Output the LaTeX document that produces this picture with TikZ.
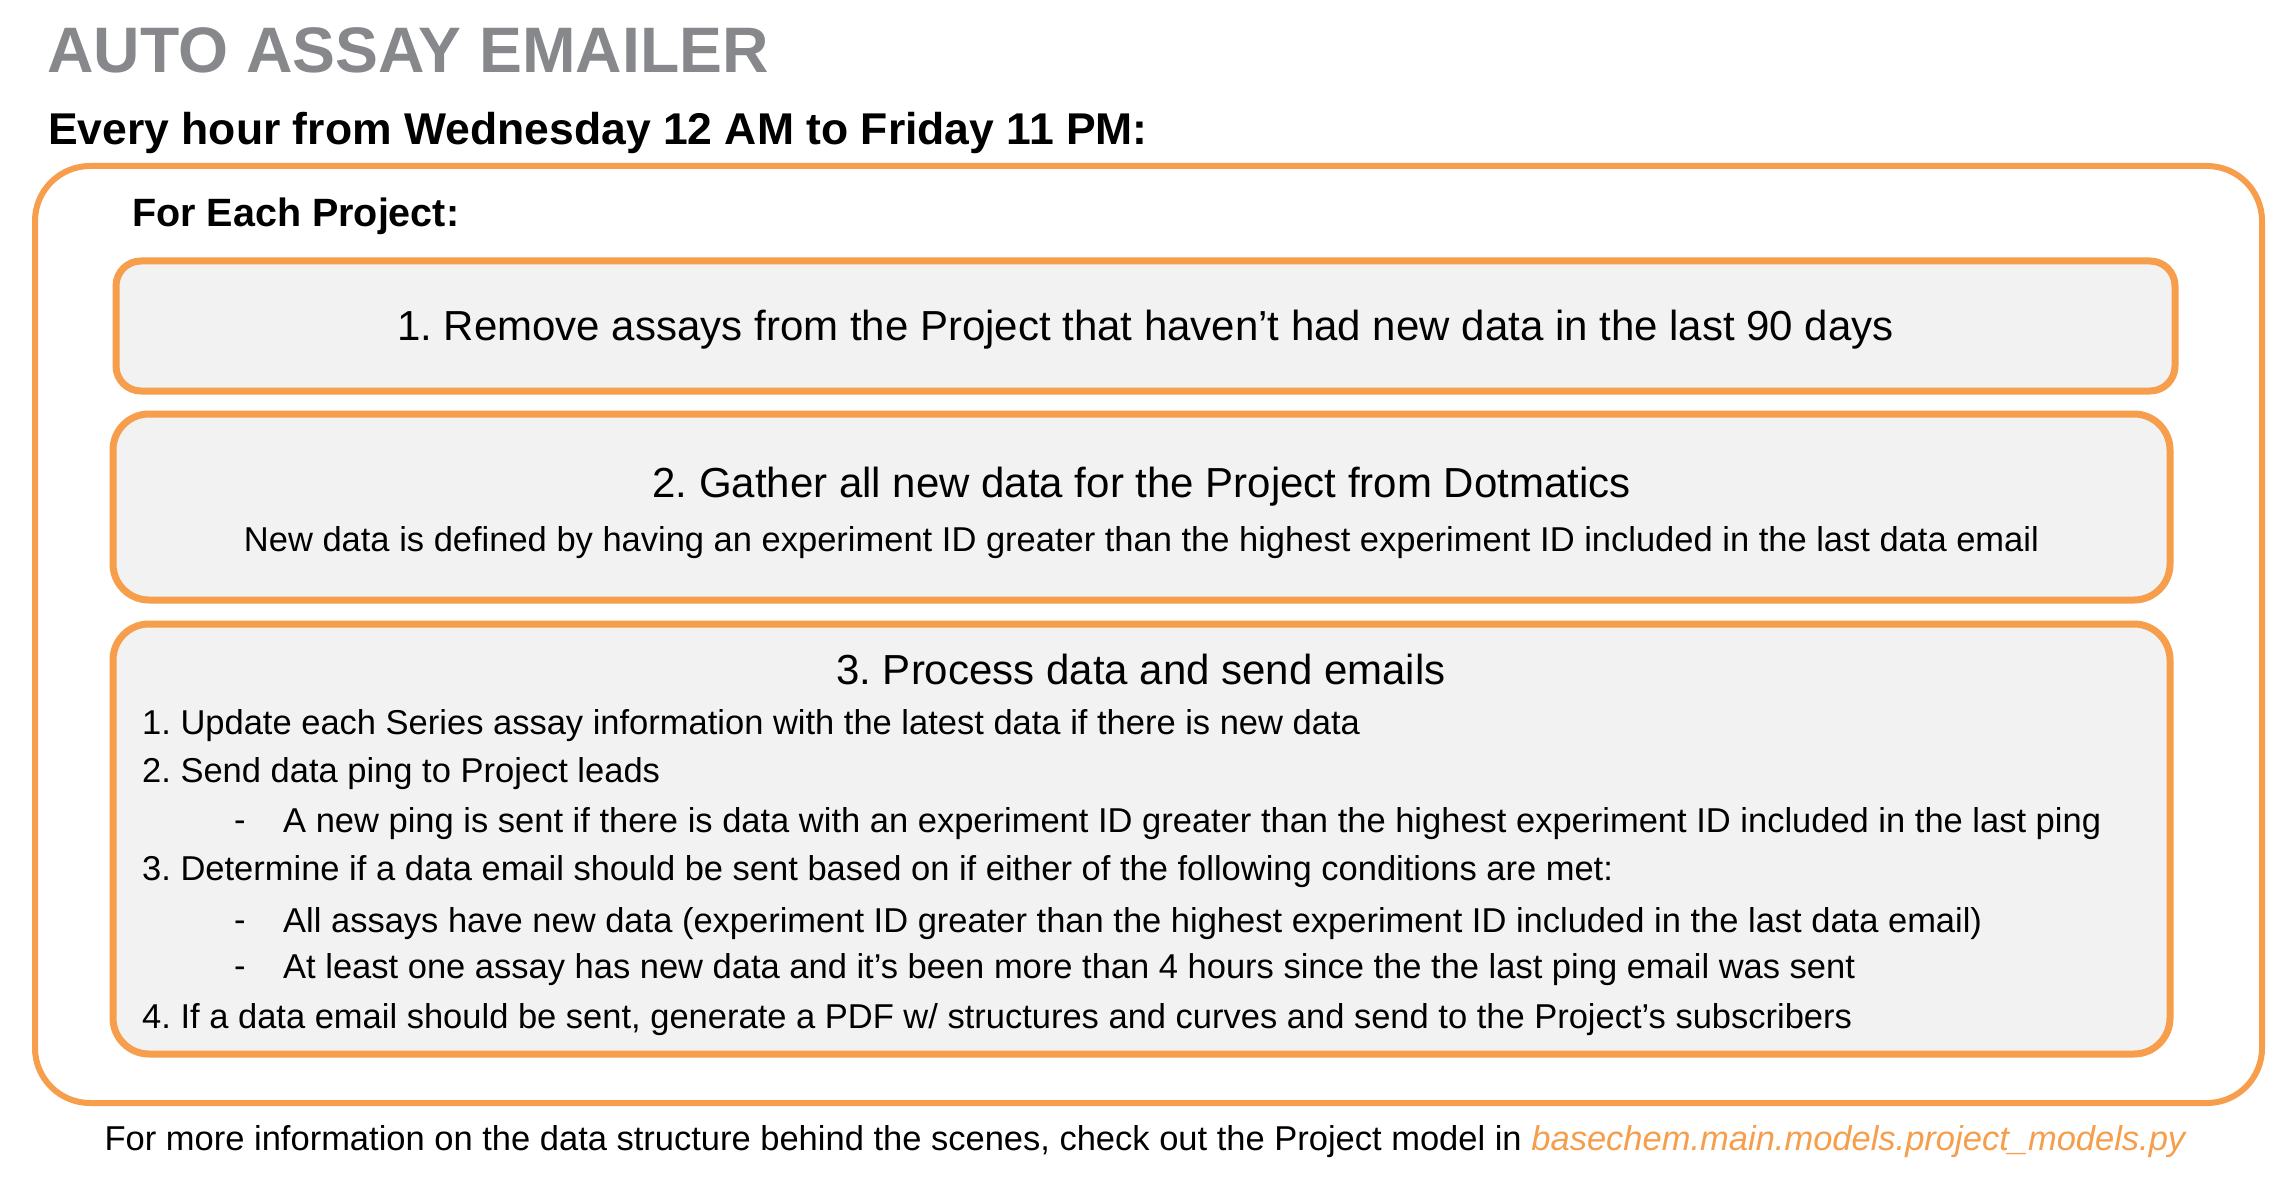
\documentclass[tikz,border=0pt]{standalone}
\usepackage{fontspec}
\setmainfont{Liberation Sans}
\definecolor{org}{HTML}{F69E4B}
\definecolor{boxfill}{HTML}{F2F2F2}
\definecolor{ttl}{HTML}{87888B}
\frenchspacing
\begin{document}
\begin{tikzpicture}[x=1pt,y=-1pt,
  stepbox/.style={draw=org, line width=7pt, fill=boxfill, inner sep=0pt},
  big/.style={font=\fontsize{42}{48}\selectfont, inner sep=0pt},
  body/.style={font=\fontsize{34.5}{40}\selectfont, inner sep=0pt, anchor=west},
]
\useasboundingbox (0,0) rectangle (2296,1190);
\fill[white] (0,0) rectangle (2296,1190);

\node[anchor=west, inner sep=0pt, font=\fontsize{64.3}{70}\selectfont\bfseries, text=ttl] (title) at (47,50) {AUTO ASSAY EMAILER};
\node[anchor=west, inner sep=0pt, font=\fontsize{44.5}{50}\selectfont\bfseries] (sub) at (48,133) {Every hour from Wednesday 12 AM to Friday 11 PM:};

\node[draw=org, line width=6pt, rounded corners=55pt, minimum width=2227pt, minimum height=937pt, anchor=north west, inner sep=0pt] (outer) at (32,163) {};

\node[anchor=west, inner sep=0pt, font=\fontsize{39.5}{44}\selectfont\bfseries] (each) at (132,216) {For Each Project:};

\node[stepbox, rounded corners=25pt, minimum width=2059pt, minimum height=130pt] (b1) at (1145.5,326) {};
\node[big] (b1t) at (1145.5,330) {1. Remove assays from the Project that haven’t had new data in the last 90 days};

\node[stepbox, rounded corners=36pt, minimum width=2057pt, minimum height=186pt] (b2) at (1141.5,507) {};
\node[big] (b2t) at (1141.5,487) {2. Gather all new data for the Project from Dotmatics};
\node[body, anchor=center] (b2s) at (1141.5,543) {New data is defined by having an experiment ID greater than the highest experiment ID included in the last data email};

\node[stepbox, rounded corners=36pt, minimum width=2057pt, minimum height=430pt] (b3) at (1141.5,839) {};
\node[big] (b3t) at (1141,669) {3. Process data and send emails};
\node[body] (l1) at (142,726) {1. Update each Series assay information with the latest data if there is new data};
\node[body] (l2) at (142,774) {2. Send data ping to Project leads};
\node[body] (d1) at (234,826) {-};
\node[body] (l2a) at (283,824) {A new ping is sent if there is data with an experiment ID greater than the highest experiment ID included in the last ping};
\node[body] (l3) at (142,872) {3. Determine if a data email should be sent based on if either of the following conditions are met:};
\node[body] (d2) at (234,926) {-};
\node[body] (l3a) at (283,924) {All assays have new data (experiment ID greater than the highest experiment ID included in the last data email)};
\node[body] (d3) at (234,972) {-};
\node[body] (l3b) at (283,970) {At least one assay has new data and it’s been more than 4 hours since the the last ping email was sent};
\node[body] (l4) at (142,1020) {4. If a data email should be sent, generate a PDF w/ structures and curves and send to the Project’s subscribers};

\node[body, anchor=center] (foot) at (1145,1142) {For more information on the data structure behind the scenes, check out the Project model in \textcolor{org}{\itshape basechem.main.models.project\_models.py}};
\end{tikzpicture}
\end{document}
